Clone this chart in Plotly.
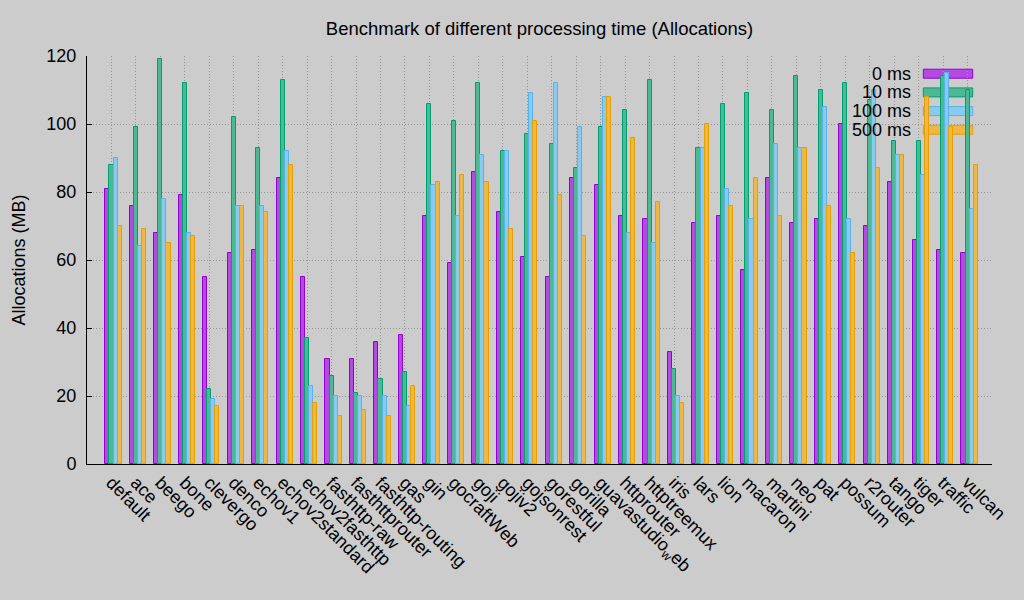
import plotly.graph_objects as go

categories = ["default", "ace", "beego", "bone", "clevergo", "denco", "echov1",
              "echov2standard", "echov2fasthttp", "fasthttp-raw", "fasthttprouter",
              "fasthttp-routing", "gas", "gin", "gocraftWeb", "goji", "gojiv2",
              "gojsonrest", "gorestful", "gorilla", "guavastudio<sub>w</sub>eb",
              "httprouter", "httptreemux", "iris", "lars", "lion", "macaron",
              "martini", "neo", "pat", "possum", "r2router", "tango", "tiger",
              "traffic", "vulcan"]

series_names = ["0 ms", "10 ms", "100 ms", "500 ms"]

ms0 = [81, 76, 68, 79, 55, 62, 63, 84, 55, 31, 31, 36, 38, 73, 59, 86, 74, 61,
       55, 84, 82, 73, 72, 33, 71, 73, 57, 84, 71, 72, 100, 70, 83, 66, 63, 62]
ms10 = [88, 99, 119, 112, 22, 102, 93, 113, 37, 26, 21, 25, 27, 106, 101, 112, 92, 97,
        94, 87, 99, 104, 113, 28, 93, 106, 109, 104, 114, 110, 112, 107, 95, 95, 114, 110]
ms100 = [90, 64, 78, 68, 19, 76, 76, 92, 23, 20, 20, 20, 17, 82, 73, 91, 92, 109,
         112, 99, 108, 68, 65, 20, 93, 81, 72, 94, 93, 105, 72, 110, 91, 85, 115, 75]
ms500 = [70, 69, 65, 67, 17, 76, 74, 88, 18, 14, 16, 14, 23, 83, 85, 83, 69, 101,
         79, 67, 108, 96, 77, 18, 100, 76, 84, 73, 93, 76, 62, 87, 91, 108, 99, 88]

series_values = [ms0, ms10, ms100, ms500]
line_colors = ["#9400d3", "#009e73", "#56b4e9", "#e69f00"]
fill_colors = ["#b34be1", "#4db894", "#88caf0", "#efb845"]

y_ticks = [0, 20, 40, 60, 80, 100, 120]

BW = 1 / 6
fig = go.Figure()
for k, (name, vals) in enumerate(zip(series_names, series_values)):
    fig.add_trace(go.Bar(
        x=[i + (k - 1) * BW for i in range(len(categories))],
        y=vals,
        width=BW,
        name=name,
        marker=dict(color=fill_colors[k], line=dict(color=line_colors[k], width=1)),
        showlegend=False,
    ))

FONT = "Liberation Sans, Arial, Helvetica, sans-serif"
FS = 18

# gnuplot-style key: text on the left, sample box on the right
L, R, T, B = 87, 992, 56, 464
W, H = R - L, B - T
annotations = []
shapes = []
for k, name in enumerate(series_names):
    yc = 73.7 + 18.7 * k
    yp = (B - yc) / H
    annotations.append(dict(
        x=(913 - L) / W, y=yp, xref="paper", yref="paper",
        text=name, showarrow=False, xanchor="right", yanchor="middle",
        font=dict(family=FONT, size=FS, color="#000000"),
    ))
    shapes.append(dict(
        type="rect", xref="paper", yref="paper",
        x0=(923.3 - L) / W, x1=(972.7 - L) / W,
        y0=(B - yc - 4.5) / H, y1=(B - yc + 4.5) / H,
        fillcolor=fill_colors[k], line=dict(color=line_colors[k], width=1),
        layer="below",
    ))

GRID = dict(showgrid=True, gridcolor="#959595", griddash="1px,2px", gridwidth=1)

fig.update_layout(
    width=1024, height=600,
    margin=dict(l=L, r=1024 - R, t=T, b=600 - B, pad=0),
    paper_bgcolor="#cccccc", plot_bgcolor="#cccccc",
    font=dict(family=FONT, size=FS, color="#000000"),
    title=dict(text="Benchmark of different processing time (Allocations)",
               xref="paper", x=0.5, xanchor="center", y=1 - 29 / 600, yanchor="middle",
               font=dict(family=FONT, size=18.5, color="#000000")),
    barmode="overlay",
    bargap=0,
    annotations=annotations,
    shapes=shapes,
)
fig.update_xaxes(
    range=[-1, 36],
    tickmode="array",
    tickvals=list(range(len(categories))),
    ticktext=categories,
    tickangle=45,
    showline=True, linecolor="#000000", linewidth=1,
    ticks="", zeroline=False,
    tickfont=dict(family=FONT, size=FS, color="#000000"),
    **GRID,
)
fig.update_yaxes(
    range=[0, 120],
    tickmode="array",
    tickvals=y_ticks,
    ticktext=[str(v) for v in y_ticks],
    showline=True, linecolor="#000000", linewidth=1,
    ticks="inside", ticklen=5, tickcolor="#000000",
    ticklabelstandoff=6,
    zeroline=False,
    title=dict(text="Allocations (MB)", standoff=16,
               font=dict(family=FONT, size=FS, color="#000000")),
    tickfont=dict(family=FONT, size=FS, color="#000000"),
    **GRID,
)

fig.write_html("out.html")
